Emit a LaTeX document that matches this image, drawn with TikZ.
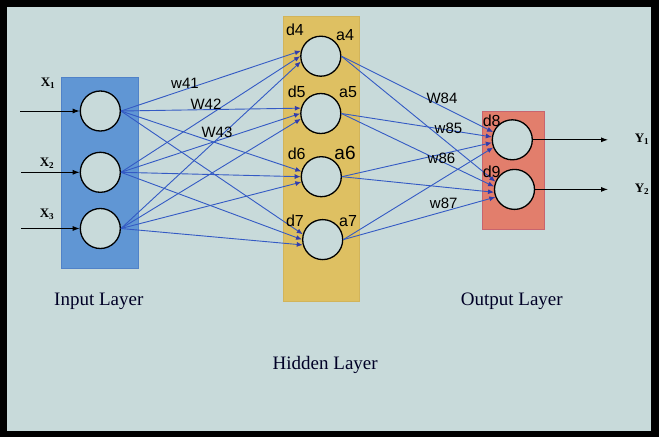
\documentclass[tikz,border=0pt]{standalone}
\usepackage{fontspec}
\setmainfont{Liberation Serif}
\newfontfamily\sansf{Liberation Sans}
\usetikzlibrary{arrows.meta}
\definecolor{bg}{RGB}{200,218,218}
\definecolor{inblue}{RGB}{96,150,212}
\definecolor{inblueb}{RGB}{80,130,200}
\definecolor{hidyel}{RGB}{222,192,98}
\definecolor{hidyelb}{RGB}{210,180,90}
\definecolor{outred}{RGB}{226,126,108}
\definecolor{outredb}{RGB}{200,100,110}
\definecolor{lineblue}{RGB}{52,90,196}
\definecolor{arrowblue}{RGB}{50,60,170}
\tikzset{
  neuron/.style={circle, draw=black, line width=1.3pt, fill=bg, minimum size=40pt, inner sep=0pt},
  layerbox/.style={draw, line width=0.8pt, inner sep=0pt},
  conn/.style={draw=lineblue, line width=0.9pt, -{Latex[length=6pt,width=5pt,color=arrowblue]}},
  inarrow/.style={draw=black, line width=0.9pt, -{Latex[length=7pt,width=5pt]}},
  caption/.style={font=\fontsize{19}{21}\selectfont, text=black!85!blue},
  xlab/.style={font=\fontsize{13}{15}\selectfont\bfseries, text=black},
  dlab/.style={font=\sansf\fontsize{16}{18}\selectfont, text=black, inner sep=0pt},
  wlab/.style={font=\sansf\fontsize{15}{17}\selectfont, text=black, inner sep=0pt}
}
\begin{document}
\begin{tikzpicture}[x=1pt,y=-1pt]
\useasboundingbox (0,0) rectangle (659,437);
\fill[black] (0,0) rectangle (659,437);
\fill[bg] (7,7) rectangle (651,431);

% layer boxes
\node[layerbox, draw=inblueb, fill=inblue, minimum width=76.6pt, minimum height=191pt] (inbox) at (100,172.8) {};
\node[layerbox, draw=hidyelb, fill=hidyel, minimum width=75.5pt, minimum height=285pt] (hidbox) at (321.2,159.2) {};
\node[layerbox, draw=outredb, fill=outred, minimum width=61.5pt, minimum height=118.3pt] (outbox) at (513.2,170.2) {};

% neurons
\node[neuron] (i1) at (100.3,111) {};
\node[neuron] (i2) at (100.3,172.3) {};
\node[neuron] (i3) at (100.3,228.5) {};
\node[neuron] (h4) at (320.8,56.2) {};
\node[neuron] (h5) at (320.8,113.5) {};
\node[neuron] (h6) at (321.3,176.7) {};
\node[neuron] (h7) at (322.7,239.6) {};
\node[neuron] (o8) at (512.3,139.8) {};
\node[neuron] (o9) at (514.5,189.4) {};

% input -> hidden
\foreach \h in {4,5,6,7}{
  \draw[conn] (i1.east) -- (h\h.165);
  \draw[conn] (i2.east) -- (h\h.180);
  \draw[conn] (i3.east) -- (h\h.195);
}
% hidden -> output
\foreach \o in {8,9}{
  \draw[conn] (h4.east) -- (o\o.158);
  \draw[conn] (h5.east) -- (o\o.172);
  \draw[conn] (h6.east) -- (o\o.188);
  \draw[conn] (h7.east) -- (o\o.202);
}

% input arrows
\coordinate (x1s) at (20,111);
\coordinate (x2s) at (21,172.3);
\coordinate (x3s) at (21,228.5);
\draw[inarrow] (x1s) -- (i1.west);
\draw[inarrow] (x2s) -- (i2.west);
\draw[inarrow] (x3s) -- (i3.west);

% output arrows
\coordinate (y1e) at (608,139.8);
\coordinate (y2e) at (608,189.4);
\draw[inarrow] (o8.east) -- (y1e);
\draw[inarrow] (o9.east) -- (y2e);

% input / output labels
\node[xlab] (lx1) at (48,83) {X\textsubscript{1}};
\node[xlab] (lx2) at (47,163) {X\textsubscript{2}};
\node[xlab] (lx3) at (47,214) {X\textsubscript{3}};
\node[xlab] (ly1) at (642,139.3) {Y\textsubscript{1}};
\node[xlab] (ly2) at (642,189.3) {Y\textsubscript{2}};

% neuron labels
\node[dlab] (ld4) at (295,30) {d4};
\node[dlab] (la4) at (345,35) {a4};
\node[dlab] (ld5) at (296.7,91.7) {d5};
\node[dlab] (la5) at (348,91.7) {a5};
\node[dlab] (ld6) at (296.7,153.3) {d6};
\node[dlab, font=\sansf\fontsize{19}{21}\selectfont] (la6) at (345,153.3) {a6};
\node[dlab] (ld7) at (295,220.7) {d7};
\node[dlab] (la7) at (348,220.7) {a7};
\node[dlab] (ld8) at (491.7,120.7) {d8};
\node[dlab] (ld9) at (491.7,171.7) {d9};

% weight labels
\node[wlab] (w41) at (185,83) {w41};
\node[wlab] (w42) at (206,104.5) {W42};
\node[wlab] (w43) at (217,132) {W43};
\node[wlab] (w84) at (442,98.3) {W84};
\node[wlab] (w85) at (448.5,128) {w85};
\node[wlab] (w86) at (441.5,158.7) {w86};
\node[wlab] (w87) at (443.7,203.7) {w87};

% captions
\node[caption] (cin) at (98.8,301) {Input Layer};
\node[caption] (cout) at (511.8,301) {Output Layer};
\node[caption] (chid) at (325.2,365) {Hidden Layer};
\end{tikzpicture}
\end{document}
